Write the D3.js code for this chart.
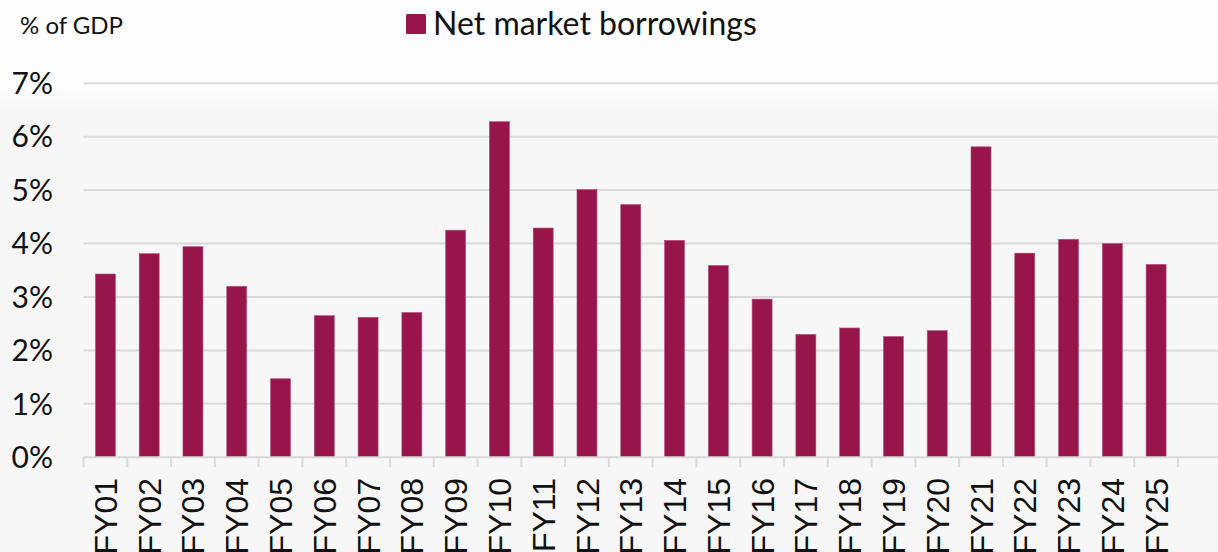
<!DOCTYPE html>
<html>
<head>
<meta charset="utf-8">
<script src="https://cdn.jsdelivr.net/npm/d3@7"></script>
<style>
  html, body { margin: 0; padding: 0; background: #f7f7f7; }
  svg { display: block; }
</style>
</head>
<body>
<svg id="chart" width="1218" height="552"></svg>
<script>
// Fiscal years shown on the axis (last slot left empty)
const years = ["FY01","FY02","FY03","FY04","FY05","FY06","FY07","FY08","FY09","FY10",
               "FY11","FY12","FY13","FY14","FY15","FY16","FY17","FY18","FY19","FY20",
               "FY21","FY22","FY23","FY24","FY25",""];
// Net market borrowings, % of GDP
const borrowings = [3.43,3.81,3.94,3.20,1.47,2.65,2.62,2.71,4.25,6.28,
                    4.29,5.01,4.73,4.06,3.59,2.96,2.30,2.42,2.26,2.37,
                    5.81,3.82,4.08,4.00,3.61];
const yTicks = [0,1,2,3,4,5,6,7];
const seriesName = "Net market borrowings";
const unitLabel = "% of GDP";

const W = 1218, H = 552;
const svg = d3.select("#chart");
const barColor = "#98154c";
const gridColor = "#d9d9d9";

// soft page background: near white at the top fading into light grey
const defs = svg.append("defs");
const grad = defs.append("linearGradient").attr("id", "bg").attr("x1", 0).attr("y1", 0).attr("x2", 0).attr("y2", 1);
grad.append("stop").attr("offset", "0").attr("stop-color", "#fefefe");
grad.append("stop").attr("offset", "0.15").attr("stop-color", "#fdfdfd");
grad.append("stop").attr("offset", "0.21").attr("stop-color", "#f7f7f7");
grad.append("stop").attr("offset", "1").attr("stop-color", "#f7f7f7");
svg.append("rect").attr("width", W).attr("height", H).attr("fill", "url(#bg)");

const plotLeft = 83.5;
const bandW = 43.78;
const x = d3.scaleBand().domain(years).range([plotLeft, plotLeft + bandW * years.length]).padding(0);
const y = d3.scaleLinear().domain([0, 7]).range([457.3, 83.2]);

// horizontal gridlines
svg.append("g").selectAll("line").data(yTicks.filter(t => t > 0)).join("line")
  .attr("x1", plotLeft).attr("x2", W)
  .attr("y1", d => y(d)).attr("y2", d => y(d))
  .attr("stroke", gridColor).attr("stroke-width", 2);

// y tick labels
svg.append("g").selectAll("text").data(yTicks).join("text")
  .attr("x", 53).attr("y", d => y(d))
  .attr("dy", "0.36em")
  .attr("text-anchor", "end")
  .attr("font-family", "Lato, sans-serif")
  .attr("font-size", 30)
  .attr("fill", "#111")
  .text(d => d + "%");

// bars
const barW = bandW * 0.457;
svg.append("g").selectAll("rect").data(borrowings).join("rect")
  .attr("x", (d, i) => x(years[i]) + (bandW - barW) / 2)
  .attr("width", barW)
  .attr("y", d => y(d))
  .attr("height", d => y(0) - y(d))
  .attr("fill", barColor)
  .attr("stroke", "#b5537d")
  .attr("stroke-width", 0.6);

// category axis: baseline and tick marks at band edges
svg.append("line")
  .attr("x1", plotLeft).attr("x2", W)
  .attr("y1", y(0)).attr("y2", y(0))
  .attr("stroke", gridColor).attr("stroke-width", 2);
const edges = years.map(d => x(d)).concat([x(years[years.length - 1]) + bandW]);
svg.append("g").selectAll("line").data(edges).join("line")
  .attr("x1", d => d).attr("x2", d => d)
  .attr("y1", y(0)).attr("y2", y(0) + 10)
  .attr("stroke", gridColor).attr("stroke-width", 2);

// rotated category labels
svg.append("g").selectAll("text").data(years.filter(d => d)).join("text")
  .attr("transform", d => `translate(${x(d) + bandW / 2},478) rotate(-90)`)
  .attr("dy", "0.36em")
  .attr("text-anchor", "end")
  .attr("font-family", "'Liberation Sans', Arial, sans-serif")
  .attr("font-size", 32)
  .attr("fill", "#111")
  .text(d => d);

// unit label
svg.append("text")
  .attr("x", 20).attr("y", 34)
  .attr("font-family", "Lato, sans-serif")
  .attr("font-size", 24)
  .attr("fill", "#111")
  .text(unitLabel);

// legend
svg.append("rect")
  .attr("x", 406).attr("y", 14).attr("width", 20).attr("height", 20)
  .attr("rx", 1.5)
  .attr("fill", barColor);
svg.append("text")
  .attr("x", 433).attr("y", 35)
  .attr("font-family", "Lato, sans-serif")
  .attr("font-size", 32)
  .attr("fill", "#111")
  .text(seriesName);
</script>
</body>
</html>
